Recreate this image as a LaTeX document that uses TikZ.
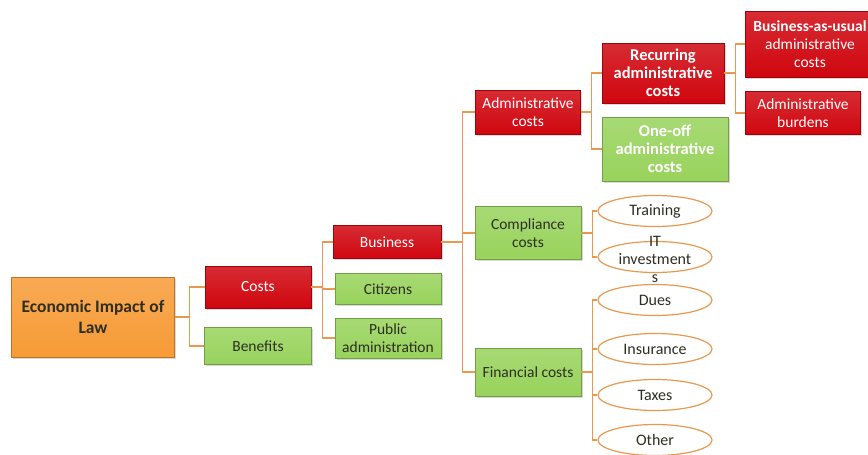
\documentclass[tikz,border=0pt]{standalone}
\usepackage{fontspec}
\setmainfont{Carlito}
\usetikzlibrary{shadows,shapes.geometric}
\definecolor{boxred}{HTML}{D0060F}
\definecolor{boxgreen}{HTML}{98D35C}
\definecolor{boxorange}{HTML}{F79B36}
\definecolor{linkorange}{HTML}{E8994E}
\definecolor{darktext}{HTML}{2E2E22}
\tikzset{
  box/.style={rectangle, draw=#1!75!black, top color=#1!85!white, bottom color=#1,
    align=center, inner sep=2pt, font=\fontsize{15.5}{18}\selectfont,
    drop shadow={opacity=0.3, shadow xshift=1.5pt, shadow yshift=-1.5pt}},
  redbox/.style={box=boxred, text=white},
  greenbox/.style={box=boxgreen, text=darktext},
  ecobox/.style={box=boxorange, text=darktext},
  boldbox/.style={font=\fontsize{16.5}{18}\selectfont\bfseries},
  oval/.style={ellipse, draw=linkorange, line width=1.2pt, fill=white, minimum width=114pt,
    minimum height=31pt, inner sep=1pt, text=darktext, font=\fontsize{16}{18}\selectfont},
  link/.style={draw=linkorange, line width=1.2pt}
}
\begin{document}
\begin{tikzpicture}[x=1pt, y=-1pt]
	\useasboundingbox (0,0) rectangle (868,455);
	
	% left column
	\node[ecobox, minimum width=163pt, minimum height=80pt, font=\fontsize{17.5}{21}\selectfont\bfseries] (eco) at (93,317)
		{Economic Impact of\\Law};
	\node[redbox, minimum width=106pt, minimum height=42pt] (costs) at (258,287) {Costs};
	\node[greenbox, minimum width=107pt, minimum height=37pt] (benefits) at (258,346) {Benefits};
	
	% who pays
	\node[redbox, minimum width=108pt, minimum height=33pt] (business) at (387,242) {Business};
	\node[greenbox, minimum width=106pt, minimum height=31pt] (citizens) at (388,289) {Citizens};
	\node[greenbox, minimum width=106pt, minimum height=40pt] (public) at (388,338) {Public\\administration};
	
	% kinds of costs
	\node[redbox, minimum width=105pt, minimum height=44pt] (admin) at (528,112) {Administrative\\costs};
	\node[greenbox, minimum width=106pt, minimum height=53pt] (compliance) at (528,233) {Compliance\\costs};
	\node[greenbox, minimum width=106pt, minimum height=48pt] (financial) at (528,372) {Financial costs};
	
	% administrative costs
	\node[redbox, boldbox, minimum width=122pt, minimum height=60pt] (recurring) at (663,73)
		{Recurring\\administrative\\costs};
	\node[greenbox, boldbox, text=white, minimum width=126pt, minimum height=64pt] (oneoff) at (665,149)
		{One-off\\administrative\\costs};
	\node[redbox, minimum width=130pt, minimum height=66pt] (bau) at (810,44)
		{\textbf{Business-as-usual}\\administrative\\costs};
	\node[redbox, minimum width=115pt, minimum height=43pt] (burdens) at (803,113) {Administrative\\burdens};
	
	% ovals
	\node[oval] (training) at (655,211) {Training};
	\node[oval] (it) at (655,257) {};
	\node[align=center, text=darktext, font=\fontsize{16}{18}\selectfont] (ittext) at (655,259) {IT\\investment\\s};
	\node[oval] (dues) at (655,300) {Dues};
	\node[oval] (insurance) at (655,349) {Insurance};
	\node[oval] (taxes) at (655,395) {Taxes};
	\node[oval] (other) at (655,440) {Other};
	
	% lines
	\draw[link] (eco.east) -- ++(15,0) |- (costs.west);
	\draw[link] (eco.east) -- ++(15,0) |- (benefits.west);
	
	\draw[link] (costs.east) -- ++(11,0) |- (business.west);
	\draw[link] (costs.east) -- ++(11,0) |- (citizens.west);
	\draw[link] (costs.east) -- ++(11,0) |- (public.west);
	
	\draw[link] (business.east) -- ++(21,0) |- (admin.west);
	\draw[link] (business.east) -- ++(21,0) |- (compliance.west);
	\draw[link] (business.east) -- ++(21,0) |- (financial.west);
	
	\draw[link] (admin.east) -- ++(11,0) |- (recurring.west);
	\draw[link] (admin.east) -- ++(11,0) |- (oneoff.west);
	
	\draw[link] (recurring.east) -- ++(11,0) |- (bau.west);
	\draw[link] (recurring.east) -- ++(11,0) |- (burdens.west);
	
	\draw[link] (compliance.east) -- ++(11,0) |- (training.west);
	\draw[link] (compliance.east) -- ++(11,0) |- (it.west);
	
	\draw[link] (financial.east) -- ++(11,0) |- (dues.west);
	\draw[link] (financial.east) -- ++(11,0) |- (insurance.west);
	\draw[link] (financial.east) -- ++(11,0) |- (taxes.west);
	\draw[link] (financial.east) -- ++(11,0) |- (other.west);
\end{tikzpicture}
\end{document}
